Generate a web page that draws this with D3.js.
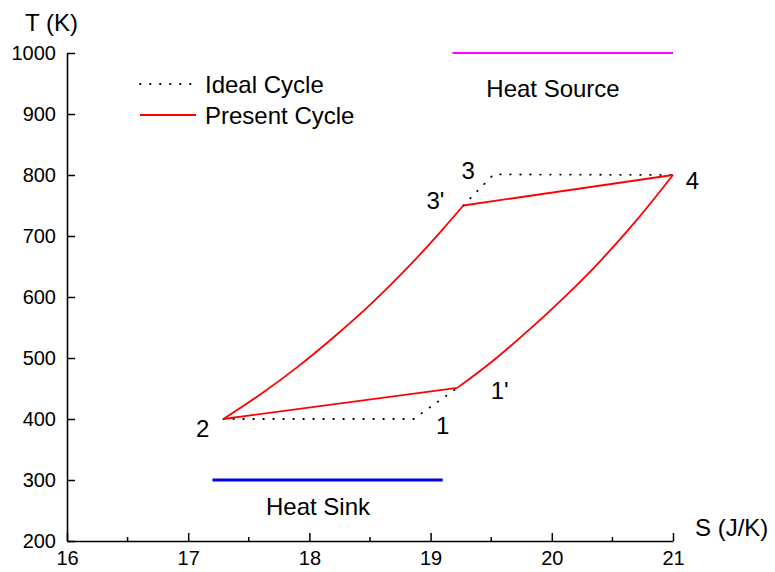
<!DOCTYPE html>
<html><head><meta charset="utf-8">
<script src="https://cdn.jsdelivr.net/npm/d3@7"></script>
<style>body{margin:0;background:#fff}svg text{font-family:Arial,"Liberation Sans",sans-serif;fill:#000}</style>
</head><body><svg id="c" width="775" height="572"></svg>
<script>
// Data
const xTicks = [16, 17, 18, 19, 20, 21];
const xMinorTicks = [16.5, 17.5, 18.5, 19.5, 20.5];
const yTicks = [200, 300, 400, 500, 600, 700, 800, 900, 1000];
// Present cycle: heat-rejection line 2 -> 1'
const rejS = [17.29, 19.22];
const rejT = [400, 451];
// Present cycle: curve 1' -> 4
const hotS = [19.22, 19.5, 19.8, 20.1, 20.4, 20.7, 21.0];
const hotT = [451, 493, 544, 599, 659, 726, 800];
// Present cycle: line 4 -> 3'
const absS = [21.0, 19.27];
const absT = [800, 750];
// Present cycle: curve 2 -> 3'
const coldS = [17.29, 17.6, 17.9, 18.2, 18.5, 18.8, 19.1, 19.27];
const coldT = [400, 441, 485, 534, 587, 646, 711, 750];
// Ideal cycle dotted segments
const idealLowS = [17.29, 18.86, 19.22];
const idealLowT = [400, 400, 451];
const idealHighS = [19.27, 19.52, 21.0];
const idealHighT = [750, 801, 800];
const sourceS = [19.18, 21.0], sourceT = 1000;
const sinkS = [17.2, 19.1], sinkT = 300;
const pointLabels = ["1", "1'", "2", "3", "3'", "4"];
const pointLabelS = [19.10, 19.57, 17.12, 19.31, 19.04, 21.16];
const pointLabelT = [390, 447, 385, 808, 759, 792];

const svg = d3.select("#c");
const L = 67, T0 = 53, W = 606, H = 488;
const x = d3.scaleLinear().domain([16, 21]).range([L, L + W]);
const y = d3.scaleLinear().domain([200, 1000]).range([T0 + H, T0]);
const FONT = "Arial, 'Liberation Sans', sans-serif";

// axes
const gx = svg.append("g").attr("transform", `translate(0,${T0 + H})`)
  .call(d3.axisBottom(x).tickValues(xTicks).tickSizeInner(-8).tickSizeOuter(0).tickPadding(14).tickFormat(d3.format("d")));
gx.append("g").selectAll("line").data(xMinorTicks).join("line")
  .attr("x1", d => x(d)).attr("x2", d => x(d)).attr("y1", 0).attr("y2", -4).attr("stroke", "#000").attr("stroke-width", 1.5);
const gy = svg.append("g").attr("transform", `translate(${L},0)`)
  .call(d3.axisLeft(y).tickValues(yTicks).tickSizeInner(-8).tickSizeOuter(0).tickPadding(12).tickFormat(d3.format("d")));
[gx, gy].forEach(g => {
  g.select(".domain").attr("stroke-width", 1.6);
  g.selectAll(".tick line").attr("stroke-width", 1.5);
  g.selectAll(".tick text").attr("font-size", 20).attr("font-family", FONT);
});
gy.selectAll(".tick text").attr("dx", "0.05em");
gx.selectAll(".tick text").attr("dy", "0.5em");

svg.append("text").attr("x", 25).attr("y", 31).attr("font-size", 24).text("T (K)");
svg.append("text").attr("x", 695).attr("y", 536).attr("font-size", 24).text("S (J/K)");

// heat source / sink
svg.append("line").attr("x1", x(sourceS[0])).attr("x2", x(sourceS[1])).attr("y1", y(sourceT)).attr("y2", y(sourceT))
  .attr("stroke", "#ff00ff").attr("stroke-width", 2);
svg.append("line").attr("x1", x(sinkS[0])).attr("x2", x(sinkS[1])).attr("y1", y(sinkT)).attr("y2", y(sinkT))
  .attr("stroke", "#0000ee").attr("stroke-width", 3);
svg.append("text").attr("x", 553).attr("y", 97).attr("text-anchor", "middle").attr("font-size", 24).text("Heat Source");
svg.append("text").attr("x", 318).attr("y", 515).attr("text-anchor", "middle").attr("font-size", 24).text("Heat Sink");

// ideal cycle dotted
const lineLin = d3.line().x(d => x(d[0])).y(d => y(d[1]));
const zip = (s, t) => s.map((v, i) => [v, t[i]]);
[[idealLowS, idealLowT], [idealHighS, idealHighT]].forEach(([s, t]) => {
  svg.append("path").attr("d", lineLin(zip(s, t)))
    .attr("fill", "none").attr("stroke", "#000").attr("stroke-width", 1.8)
    .attr("stroke-linecap", "round").attr("stroke-dasharray", "0.5,9.5");
});

// present cycle
const smooth = d3.line().x(d => x(d[0])).y(d => y(d[1])).curve(d3.curveMonotoneX);
const red = "#ff0000";
[[rejS, rejT, lineLin], [hotS, hotT, smooth], [absS, absT, lineLin], [coldS, coldT, smooth]].forEach(([s, t, gen]) => {
  svg.append("path").attr("d", gen(zip(s, t))).attr("fill", "none").attr("stroke", red)
    .attr("stroke-width", 1.8).attr("stroke-linejoin", "round");
});

// point labels
pointLabels.forEach((lab, i) => {
  svg.append("text").attr("x", x(pointLabelS[i])).attr("y", y(pointLabelT[i])).attr("text-anchor", "middle")
    .attr("dy", "0.36em").attr("font-size", 24).text(lab);
});

// legend
svg.append("line").attr("x1", 140).attr("x2", 194).attr("y1", 84).attr("y2", 84)
  .attr("stroke", "#000").attr("stroke-width", 1.8).attr("stroke-linecap", "round").attr("stroke-dasharray", "0.5,9.5");
svg.append("line").attr("x1", 140).attr("x2", 196).attr("y1", 115).attr("y2", 115)
  .attr("stroke", red).attr("stroke-width", 1.8);
svg.append("text").attr("x", 205).attr("y", 93).attr("font-size", 24).text("Ideal Cycle");
svg.append("text").attr("x", 205).attr("y", 124).attr("font-size", 24).text("Present Cycle");
</script></body></html>
